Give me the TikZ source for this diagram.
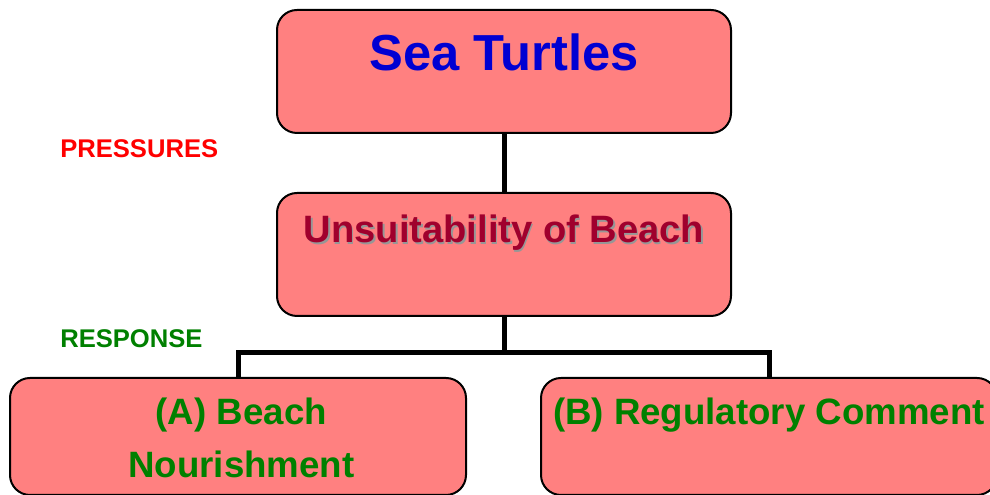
\documentclass[tikz,border=0pt]{standalone}
\usepackage{fontspec}
\setmainfont{Liberation Sans}
\definecolor{boxfill}{RGB}{255,128,128}
\definecolor{titleblue}{RGB}{0,0,210}
\definecolor{causered}{RGB}{160,0,45}
\definecolor{shadowgray}{RGB}{150,150,150}
\definecolor{answergreen}{RGB}{0,128,0}

\begin{document}
\begin{tikzpicture}[
  x=0.75pt, y=0.75pt,
  box/.style={
    rectangle, rounded corners=15pt, draw=black, line width=1.5pt,
    fill=boxfill, inner sep=0pt, outer sep=0pt
  },
  topbox/.style={box, minimum width=340.5pt, minimum height=92.25pt},
  lowbox/.style={box, minimum width=342pt, minimum height=87.75pt},
  boxtext/.style={inner sep=0pt, anchor=base, font=\bfseries},
  title/.style={boxtext, font=\fontsize{38}{44}\selectfont\bfseries, text=titleblue},
  cause/.style={boxtext, font=\fontsize{28.6}{34}\selectfont\bfseries, text=causered},
  answer/.style={boxtext, font=\fontsize{27.5}{40}\selectfont\bfseries, text=answergreen},
  tag/.style={inner sep=0pt, anchor=base west, font=\fontsize{19.2}{23}\selectfont\bfseries},
  link/.style={line width=3.75pt, black},
]
\useasboundingbox (0,0) rectangle (990,495);

% Side labels
\node[tag, text=red] (pressures) at (60,337) {PRESSURES};
\node[tag, text=answergreen] (response) at (60,147) {RESPONSE};

% Boxes
\node[topbox] (turtles) at (504,423.5) {};
\node[topbox] (beach) at (504,240.5) {};
\node[lowbox] (nourish) at (238,58.5) {};
\node[lowbox] (comment) at (769,58.5) {};

% Connectors
\coordinate (split) at (504,142);
\draw[link] (turtles.south) -- (beach.north);
\draw[link] (beach.south) -- (split);
\draw[link] (nourish.north) |- (split) -| (comment.north);

% Box texts
\node[title] (turtlestitle) at ([yshift=-45.75pt]turtles.north) {Sea Turtles};
\node[cause, text=shadowgray] (beachshadow) at ([xshift=1.1pt,yshift=-38.6pt]beach.north)
  {Unsuitability of Beach};
\node[cause] (beachtitle) at ([yshift=-37.5pt]beach.north) {Unsuitability of Beach};
\node[answer, align=center] (nourishtitle) at ([xshift=2.5pt,yshift=-75pt]nourish.north)
  {(A) Beach\\Nourishment};
\node[answer] (commenttitle) at ([yshift=-35.25pt]comment.north) {(B) Regulatory Comment};

\end{tikzpicture}
\end{document}
